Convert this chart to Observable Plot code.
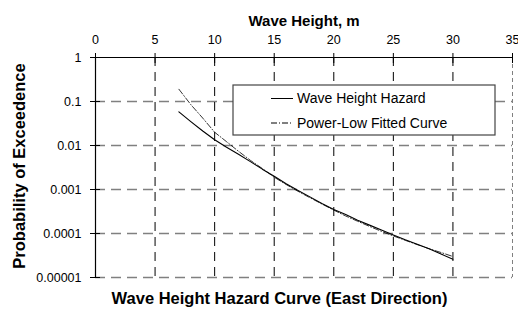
<!DOCTYPE html>
<html>
<head>
<meta charset="utf-8">
<script src="https://cdn.jsdelivr.net/npm/d3@7"></script>
<script src="https://cdn.jsdelivr.net/npm/@observablehq/plot@0.6"></script>
<style>
  html, body { margin: 0; padding: 0; background: #fff; }
  svg { display: block; }
</style>
</head>
<body>
<div id="chart"></div>
<script>
const xTicks = [0, 5, 10, 15, 20, 25, 30, 35];
const yTicks = [1, 0.1, 0.01, 0.001, 0.0001, 0.00001];
const yTickLabels = ["1", "0.1", "0.01", "0.001", "0.0001", "0.00001"];

const waveHeight = [7, 8, 9, 10, 11, 12, 13, 14, 15, 16, 17, 18, 19, 20, 21, 22, 23, 24, 25, 26, 27, 28, 29, 30];
const hazard = [0.058, 0.035, 0.0214, 0.0135, 0.0091, 0.0063, 0.0043, 0.0029, 0.0020, 0.00135, 0.00095, 0.00068, 0.00048, 0.00035, 0.00027, 0.00020, 0.000155, 0.00012, 0.000093, 0.000072, 0.000057, 0.000045, 0.000034, 0.000026];
const fitted = [0.19, 0.085, 0.042, 0.020, 0.0122, 0.0074, 0.0046, 0.0030, 0.0019, 0.0013, 0.00091, 0.00065, 0.00047, 0.00034, 0.00025, 0.00019, 0.000145, 0.000112, 0.000088, 0.000070, 0.000056, 0.000045, 0.000037, 0.000030];

const seriesNames = ["Wave Height Hazard", "Power-Low Fitted Curve"];
const xLabel = "Wave Height, m";
const yLabel = "Probability of Exceedence";
const title = "Wave Height Hazard Curve (East Direction)";

const hazardData = waveHeight.map((x, i) => ({x, y: hazard[i]}));
const fittedData = waveHeight.map((x, i) => ({x, y: fitted[i]}));

const chart = Plot.plot({
  width: 518,
  height: 315,
  marginLeft: 95,
  marginRight: 6,
  marginTop: 57,
  marginBottom: 38,
  style: {fontFamily: "'Liberation Sans', Arial, sans-serif", fontSize: "12.5px", color: "black", background: "white"},
  x: {domain: [0, 35]},
  y: {type: "log", domain: [0.00001, 1]},
  marks: [
    Plot.gridY(yTicks.slice(1), {stroke: "#808080", strokeOpacity: 1, strokeWidth: 1.6, strokeDasharray: "10,6"}),
    Plot.gridX(xTicks.slice(1, -1), {stroke: "black", strokeOpacity: 1, strokeWidth: 1, strokeDasharray: "9,6"}),
    Plot.gridX(xTicks.slice(-1), {stroke: "#808080", strokeOpacity: 1, strokeWidth: 1, strokeDasharray: "4,3"}),
    Plot.ruleY([1], {stroke: "black", strokeWidth: 1.2}),
    Plot.ruleX([0], {stroke: "black", strokeWidth: 1.2}),
    Plot.line(fittedData, {x: "x", y: "y", stroke: "black", strokeWidth: 0.8, strokeDasharray: "6,2,1,2"}),
    Plot.line(hazardData, {x: "x", y: "y", stroke: "black", strokeWidth: 1.1}),
    Plot.axisX(xTicks, {anchor: "top", tickSize: 10, dy: 5, tickPadding: 9, label: null, stroke: "black"}),
    Plot.axisY(yTicks, {anchor: "left", tickSize: 10, dx: 5, tickPadding: 9, label: null, tickFormat: (d) => yTickLabels[yTicks.indexOf(d)]}),
    Plot.text([xLabel], {frameAnchor: "top", dy: -42, fontWeight: "bold", fontSize: 15}),
    Plot.text([yLabel], {frameAnchor: "left", textAnchor: "middle", dx: -76, dy: -1.5, rotate: -90, fontWeight: "bold", fontSize: 16.5}),
    Plot.text([title], {frameAnchor: "bottom", dx: -24.5, dy: 26, fontWeight: "bold", fontSize: 16.5})
  ]
});

document.getElementById("chart").appendChild(chart);

// Legend box (drawn over the plot area, as in the reference)
const svg = d3.select(chart);
const lg = svg.append("g")
  .attr("font-family", "'Liberation Sans', Arial, sans-serif")
  .attr("font-size", 14)
  .attr("text-anchor", "start");
lg.append("rect").attr("x", 233).attr("y", 85).attr("width", 262).attr("height", 50)
  .attr("fill", "white").attr("stroke", "#444").attr("stroke-width", 1.2);
const dashes = [null, "6,2,1,2"];
seriesNames.forEach((name, i) => {
  const cy = 98.5 + i * 24.5;
  lg.append("line").attr("x1", 271).attr("x2", 293).attr("y1", cy).attr("y2", cy)
    .attr("stroke", "black").attr("stroke-width", 1).attr("stroke-dasharray", dashes[i]);
  lg.append("text").attr("x", 297).attr("y", cy).attr("dy", "0.35em").attr("fill", "black").text(name);
});
</script>
</body>
</html>
